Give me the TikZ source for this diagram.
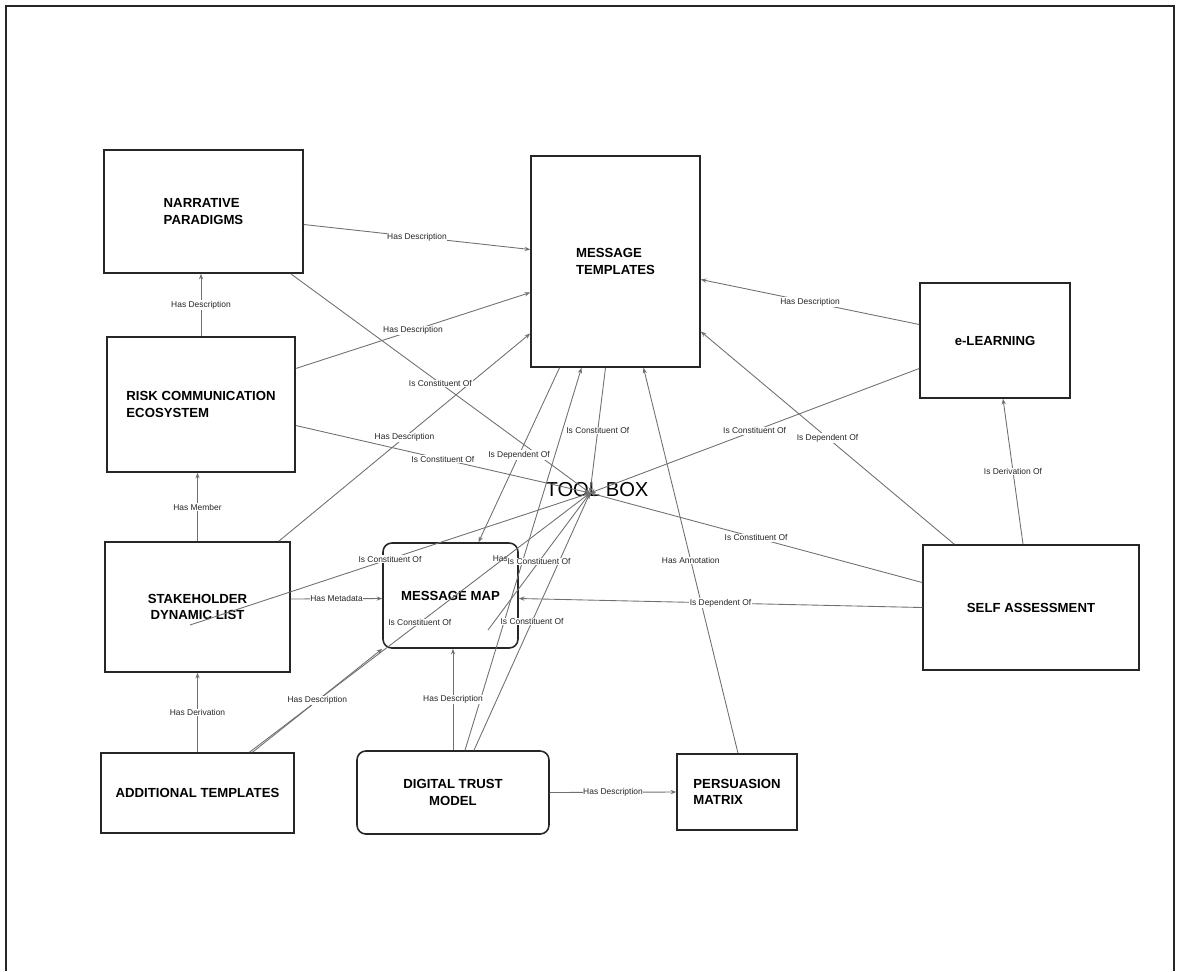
\documentclass[tikz,border=0pt]{standalone}
\usepackage{fontspec}
\setmainfont{Liberation Sans}
\usetikzlibrary{arrows.meta,calc}
\definecolor{linegray}{HTML}{707070}
\definecolor{boxline}{HTML}{262626}

\begin{document}
\begin{tikzpicture}[x=0.02cm, y=-0.02cm, >={Stealth[length=3.2pt,width=2.4pt]},
  concept/.style={draw=boxline, line width=0.9pt, fill=white, inner sep=0pt,
    font=\fontsize{7.5}{9.2}\selectfont\bfseries},
  roundconcept/.style={concept, rounded corners=5pt},
  link/.style={->, draw=linegray, line width=0.5pt},
  lbl/.style={fill=white, inner sep=0.4pt, text=black!85,
    font=\fontsize{4.8}{5.5}\selectfont}]
  \useasboundingbox (0,0) rectangle (1179,971);
  %% ── Page frame ─────────────────────────────────────────────
  \draw[boxline, line width=1pt] (6,971) -- (6,6) -- (1174,6) -- (1174,971);

  %% ── Concepts ──────────────────────────────────────────────
  \node[concept, minimum width=3.98cm, minimum height=2.46cm, align=left] (np) at (203.5,211.5) {NARRATIVE\\PARADIGMS};
  \node[concept, minimum width=3.76cm, minimum height=2.70cm, align=left] (risk) at (201,404.5) {RISK COMMUNICATION\\ECOSYSTEM};
  \node[concept, minimum width=3.70cm, minimum height=2.60cm, align=center] (sh) at (197.5,607) {STAKEHOLDER\\DYNAMIC LIST};
  \node[concept, minimum width=3.86cm, minimum height=1.60cm] (at) at (197.5,793) {ADDITIONAL TEMPLATES};
  \node[roundconcept, minimum width=3.84cm, minimum height=1.66cm, align=center] (dtm) at (453,792.5) {DIGITAL TRUST\\MODEL};
  \node[roundconcept, minimum width=2.70cm, minimum height=2.10cm] (mm) at (450.5,595.5) {MESSAGE MAP};
  \node[concept, minimum width=2.40cm, minimum height=1.52cm, align=left] (pm) at (737,792) {PERSUASION\\MATRIX};
  \node[concept, minimum width=3.38cm, minimum height=4.22cm, align=left] (mt) at (615.5,261.5) {MESSAGE\\TEMPLATES};
  \node[concept, minimum width=3.00cm, minimum height=2.30cm] (el) at (995,340.5) {e-LEARNING};
  \node[concept, minimum width=4.32cm, minimum height=2.50cm] (sa) at (1031,607.5) {SELF ASSESSMENT};

  %% TOOL BOX hub, where the links meet
  \node[font=\fontsize{11.5}{13}\selectfont] (toolbox) at (597,490) {TOOL BOX};
  \coordinate (hub) at (590,493);
  \coordinate (shfree) at (190,625);
  \coordinate (mmfree) at (488,630);

  %% ── Links into MESSAGE TEMPLATES ───────────────────────────
  \draw[link] ($(np.east)+(0,13)$) -- node[lbl] {Has Description} ($(mt.west)+(0,-12)$);
  \draw[link] ($(risk.east)+(0,-36)$) -- node[lbl] {Has Description} ($(mt.west)+(0,31)$);
  \draw[link] ($(sh.north east)+(-12,0)$) -- node[lbl] {Has Description} ($(mt.west)+(0,72)$);
  \draw[link] ($(el.west)+(0,-16)$) -- node[lbl] {Has Description} ($(mt.east)+(0,18)$);
  \draw[link] ($(sa.north west)+(32,0)$) -- node[lbl] {Is Dependent Of} ($(mt.east)+(0,70)$);
  \draw[link] ($(pm.north)+(1,0)$) -- node[lbl] {Has Annotation} ($(mt.south)+(28,0)$);
  \draw[link] ($(dtm.north)+(12,0)$) -- node[lbl, xshift=-0.46cm] {Has} ($(mt.south)+(-34,0)$);

  %% ── Links into TOOL BOX ───────────────────────────────────
  \draw[link] ($(np.south east)+(-13,0)$) -- node[lbl] {Is Constituent Of} (hub);
  \draw[link] ($(risk.east)+(0,21)$) -- node[lbl] {Is Constituent Of} (hub);
  \draw[link] (shfree) -- node[lbl] {Is Constituent Of} (hub);
  \draw[link] ($(at.north)+(52,0)$) -- node[lbl] {Is Constituent Of} (hub);
  \draw[link] ($(dtm.north)+(21,0)$) -- node[lbl] {Is Constituent Of} (hub);
  \draw[link] (mmfree) -- node[lbl] {Is Constituent Of} (hub);
  \draw[link] ($(mt.south)+(-10,0)$) -- node[lbl] {Is Constituent Of} (hub);
  \draw[link] ($(el.west)+(0,28)$) -- node[lbl] {Is Constituent Of} (hub);
  \draw[link] ($(sa.west)+(0,-25)$) -- node[lbl] {Is Constituent Of} (hub);

  %% ── Links into MESSAGE MAP ────────────────────────────────
  \draw[link] ($(mt.south)+(-56,0)$) -- node[lbl] {Is Dependent Of} ($(mm.north)+(28,0)$);
  \draw[link] (sa.west) -- node[lbl] {Is Dependent Of} ($(mm.east)+(0,3)$);
  \draw[link] ($(sh.east)+(0,-8)$) -- node[lbl] {Has Metadata} ($(mm.west)+(0,3)$);
  \draw[link] ($(at.north)+(55,0)$) -- node[lbl] {Has Description} (mm.south west);
  \draw[link] (dtm.north) -- node[lbl] {Has Description} (dtm.north |- mm.south);

  %% ── Left column ───────────────────────────────────────────
  \draw[link] (risk.north) -- node[lbl] {Has Description} (risk.north |- np.south);
  \draw[link] (sh.north) -- node[lbl] {Has Member} (sh.north |- risk.south);
  \draw[link] (at.north) -- node[lbl] {Has Derivation} (at.north |- sh.south);

  %% ── Right side and bottom ─────────────────────────────────
  \draw[link] ($(sa.north)+(-8,0)$) -- node[lbl] {Is Derivation Of} ($(el.south)+(8,0)$);
  \draw[link] (dtm.east) -- node[lbl] {Has Description} (pm.west);
\end{tikzpicture}
\end{document}
